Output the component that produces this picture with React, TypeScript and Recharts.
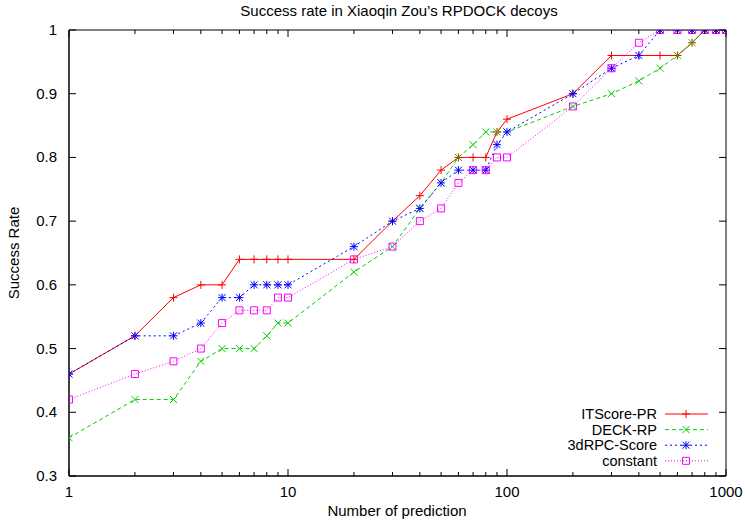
import React from 'react';
import { LineChart, Line, XAxis, YAxis, ReferenceArea } from 'recharts';

const predictions = [1, 2, 3, 4, 5, 6, 7, 8, 9, 10, 20, 30, 40, 50, 60, 70, 80, 90, 100, 200, 300, 400, 500, 600, 700, 800, 900, 1000];
const itscorePR = [0.46, 0.52, 0.58, 0.6, 0.6, 0.64, 0.64, 0.64, 0.64, 0.64, 0.64, 0.7, 0.74, 0.78, 0.8, 0.8, 0.8, 0.84, 0.86, 0.9, 0.96, 0.96, 0.96, 0.96, 0.98, 1, 1, 1];
const deckRP = [0.36, 0.42, 0.42, 0.48, 0.5, 0.5, 0.5, 0.52, 0.54, 0.54, 0.62, 0.66, 0.72, 0.76, 0.8, 0.82, 0.84, 0.84, 0.84, 0.88, 0.9, 0.92, 0.94, 0.96, 0.98, 1, 1, 1];
const rpcScore = [0.46, 0.52, 0.52, 0.54, 0.58, 0.58, 0.6, 0.6, 0.6, 0.6, 0.66, 0.7, 0.72, 0.76, 0.78, 0.78, 0.78, 0.82, 0.84, 0.9, 0.94, 0.96, 1, 1, 1, 1, 1, 1];
const constant = [0.42, 0.46, 0.48, 0.5, 0.54, 0.56, 0.56, 0.56, 0.58, 0.58, 0.64, 0.66, 0.7, 0.72, 0.76, 0.78, 0.78, 0.8, 0.8, 0.88, 0.94, 0.98, 1, 1, 1, 1, 1, 1];

const xTicks = [1, 2, 3, 4, 5, 6, 7, 8, 9, 10, 20, 30, 40, 50, 60, 70, 80, 90, 100, 200, 300, 400, 500, 600, 700, 800, 900, 1000];
const xMajor = [1, 10, 100, 1000];
const yTicks = [0.3, 0.4, 0.5, 0.6, 0.7, 0.8, 0.9, 1];

const data = predictions.map((x, i) => ({
    x,
    itscore: itscorePR[i],
    deck: deckRP[i],
    rpc: rpcScore[i],
    constant: constant[i],
}));

// plot box edges (px)
const TOP = 30;
const BOTTOM = 476;
const LEFT = 69;
const RIGHT = 726;
const FONT = '"Liberation Sans", Arial, sans-serif';
const FS = 15;

type Marker = 'plus' | 'cross' | 'star' | 'square';

const markerPath = (kind: Marker, cx: number, cy: number) => {
    const p = `M${cx - 4},${cy}h8M${cx},${cy - 4}v8`;
    const c = `M${cx - 3.5},${cy - 3.5}l7,7M${cx - 3.5},${cy + 3.5}l7,-7`;
    if (kind === 'plus') return p;
    if (kind === 'cross') return c;
    if (kind === 'star') return p + c;
    return `M${cx - 3.5},${cy - 3.5}h7v7h-7z`;
};

const makeDot = (kind: Marker, color: string) => (props: any) => {
    const { cx, cy, index } = props;
    if (cx == null || cy == null) return <g key={index} />;
    return <path key={index} d={markerPath(kind, cx, cy)} stroke={color} strokeWidth={1} fill="none" />;
};

const series = [
    { key: 'itscore', name: 'ITScore-PR', color: '#ff0000', dash: undefined, marker: 'plus' as Marker },
    { key: 'deck', name: 'DECK-RP', color: '#00d000', dash: '4 3', marker: 'cross' as Marker },
    { key: 'rpc', name: '3dRPC-Score', color: '#0000ff', dash: '2 3', marker: 'star' as Marker },
    { key: 'constant', name: 'constant', color: '#ff00ff', dash: '1 2', marker: 'square' as Marker },
];

const XTick = (props: any) => {
    const { x, payload } = props;
    const v = payload.value;
    const major = xMajor.includes(v);
    const len = major ? 7 : 4;
    return (
        <g>
            <line x1={x} x2={x} y1={BOTTOM} y2={BOTTOM - len} stroke="#000" />
            <line x1={x} x2={x} y1={TOP} y2={TOP + len} stroke="#000" />
            {major && (
                <text x={x} y={BOTTOM + 21} textAnchor="middle" fontSize={FS} fontFamily={FONT} fill="#000">
                    {v}
                </text>
            )}
        </g>
    );
};

const YTick = (props: any) => {
    const { y, payload } = props;
    const v = payload.value;
    return (
        <g>
            <line x1={LEFT} x2={LEFT + 7} y1={y} y2={y} stroke="#000" />
            <line x1={RIGHT} x2={RIGHT - 7} y1={y} y2={y} stroke="#000" />
            <text x={LEFT - 12} y={y + 5} textAnchor="end" fontSize={FS} fontFamily={FONT} fill="#000">
                {v === 1 ? '1' : v.toFixed(1)}
            </text>
        </g>
    );
};

const Overlay = () => (
    <svg width={745} height={523} style={{ position: 'absolute', left: 0, top: 0, pointerEvents: 'none' }}>
        <text x={399} y={16} textAnchor="middle" fontSize={FS} fontFamily={FONT}>
            Success rate in Xiaoqin Zou’s RPDOCK decoys
        </text>
        <text x={397} y={516} textAnchor="middle" fontSize={FS} fontFamily={FONT}>
            Number of prediction
        </text>
        <text transform="translate(19,253) rotate(-90)" textAnchor="middle" fontSize={FS} fontFamily={FONT}>
            Success Rate
        </text>
        {series.map((s, i) => {
            const y = 414 + i * 15.6;
            return (
                <g key={s.key}>
                    <text x={657} y={y + 5} textAnchor="end" fontSize={14.5} fontFamily={FONT}>
                        {s.name}
                    </text>
                    <line x1={665} x2={708} y1={y} y2={y} stroke={s.color} strokeDasharray={s.dash} />
                    <path d={markerPath(s.marker, 686, y)} stroke={s.color} fill="none" />
                </g>
            );
        })}
    </svg>
);

export default function App() {
    return (
        <div style={{ position: 'absolute', left: 0, top: 0, width: 745, height: 523, background: '#fff' }}>
            <LineChart
                width={745}
                height={523}
                data={data}
                margin={{ top: TOP, right: 745 - RIGHT, bottom: 523 - BOTTOM - 30, left: LEFT - 60 }}
            >
                <XAxis
                    dataKey="x"
                    type="number"
                    scale="log"
                    domain={[1, 1000]}
                    ticks={xTicks}
                    interval={0}
                    tick={<XTick />}
                    tickLine={false}
                    stroke="#000"
                    height={30}
                    allowDataOverflow
                />
                <YAxis
                    type="number"
                    domain={[0.3, 1]}
                    ticks={yTicks}
                    interval={0}
                    tick={<YTick />}
                    tickLine={false}
                    stroke="#000"
                    width={60}
                    allowDataOverflow
                />
                <ReferenceArea x1={1} x2={1000} y1={0.3} y2={1} fill="none" fillOpacity={0} stroke="#000" strokeWidth={1} />
                {series.map((s) => (
                    <Line
                        key={s.key}
                        dataKey={s.key}
                        name={s.name}
                        type="linear"
                        stroke={s.color}
                        strokeWidth={1}
                        strokeDasharray={s.dash}
                        dot={makeDot(s.marker, s.color)}
                        activeDot={false}
                        isAnimationActive={false}
                    />
                ))}
            </LineChart>
            <Overlay />
        </div>
    );
}
